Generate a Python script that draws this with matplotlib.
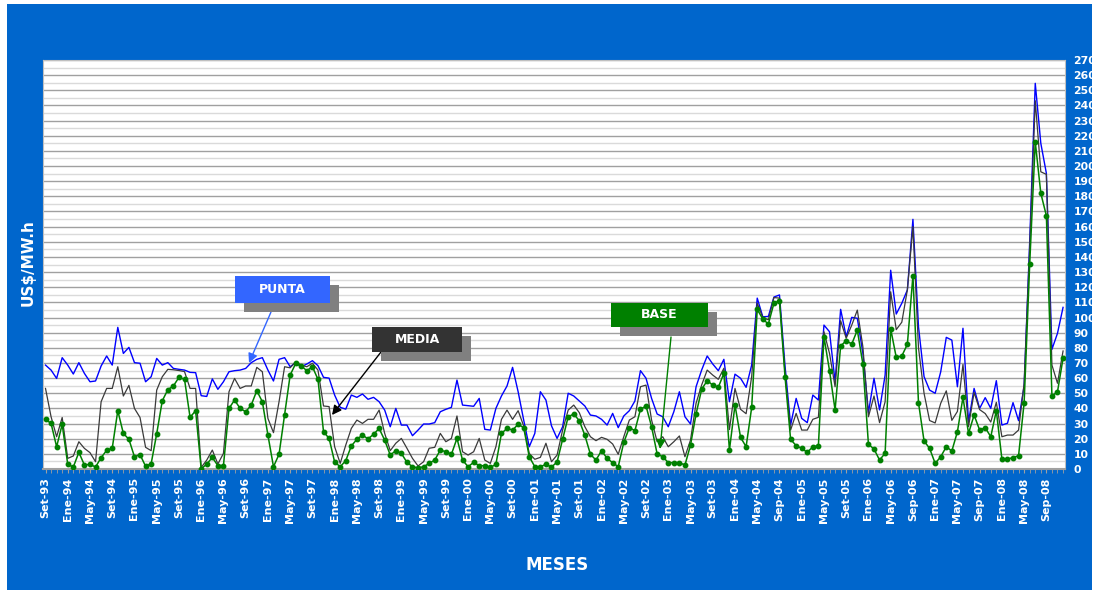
import matplotlib
matplotlib.use("Agg")
import matplotlib.pyplot as plt
from matplotlib.patches import Rectangle
import numpy as np

# ---------------- data ----------------
base = [32.8, 30.1, 14.7, 29.5, 3.1, 1.3, 11, 2.6, 3.1, 1.3, 7.5, 12.3, 13.7, 38.5, 23.5, 19.6,
        8.1, 9.5, 1.8, 3.5, 23.3, 45, 52.4, 54.8, 60.5, 59.2, 34.1, 38.5, 0, 3.3, 7.6, 2.2,
        2.2, 40, 45.5, 40, 37.8, 42.2, 51.7, 44.4, 22.4, 1.5, 9.7, 35.6, 62, 69.7, 68, 64.9,
        67.5, 59.2, 24.6, 20.2, 4.6, 1.5, 5.5, 15.2, 19.6, 22.4, 19.9, 22.9, 26.8, 19, 9.2, 12.1,
        10.3, 4.4, 1.5, 0.8, 1.5, 3.7, 5.9, 12.5, 11.4, 9.7, 20.2, 5.9, 1.5, 4.4, 2.2, 2.2,
        1, 3.1, 23.5, 26.8, 25.7, 29.5, 27.3, 8.1, 1.5, 1.5, 3.1, 1.3, 4.6, 19.6, 34.5, 36.3,
        31.9, 22.2, 9.7, 5.9, 12.1, 7, 4.2, 1.5, 17.6, 27.3, 25.3, 39.4, 41.6, 27.9, 9.9, 8.1,
        4.2, 4.2, 4.2, 2.6, 15.8, 36.3, 52.6, 58.3, 55.4, 53.9, 63.2, 12.5, 42.2, 20.9, 14.7, 40.6,
        105.4, 99, 95.7, 109.4, 111, 60.9, 19.6, 15.4, 13.6, 11, 14.7, 15.4, 87.3, 64.9, 38.9, 81.2,
        84.7, 82.5, 91.7, 69.3, 16.3, 13.2, 5.9, 10.4, 92.5, 73.7, 74.6, 82.3, 127.6, 43.8, 18.5, 13.6,
        3.7, 8.1, 14.7, 11.9, 24.6, 47.3, 23.5, 35.6, 25.7, 27.3, 21.3, 38.5, 6.6, 6.6, 7.5, 8.8,
        43.8, 135.1, 216, 182, 167.2, 48.2, 51, 73.1]

media = [53.2, 34.5, 21.3, 34, 7, 8.6, 18, 13.6, 10.8, 4.8, 44.4, 53.2, 53.2, 67.5, 48.2, 55.2,
         40, 34, 14.3, 12.1, 52.1, 60.9, 65.8, 65.5, 65, 64.3, 53.2, 53.2, 1, 5.9, 12.5, 3.3,
         10.3, 51, 59.8, 53.2, 54.8, 54.8, 67.1, 64.2, 33.4, 24, 44.4, 67.5, 66.8, 70.8, 68.6, 67.5,
         69.8, 65.3, 41.6, 41.2, 14.7, 3.7, 15.8, 26.8, 32.3, 30.1, 32.8, 32.8, 38.9, 23.5, 12.1, 17,
         20.2, 13.7, 7, 2, 4.8, 13.7, 14.3, 23.5, 18, 20.2, 35, 11.4, 9.2, 11.4, 20.2, 5.9,
         3.7, 14.7, 32.8, 38.9, 32.8, 38.5, 28.4, 10.3, 6.4, 7.7, 17, 4.8, 9.2, 25.7, 38.9, 42.2,
         37.2, 27.9, 21.3, 18.7, 20.9, 19.6, 16.5, 9.7, 21.3, 32.3, 34.5, 54.3, 55.4, 32.3, 18, 21.3,
         14.7, 18, 21.8, 8.1, 19.1, 43.4, 55.4, 65.3, 62, 59.2, 66.5, 26, 53.2, 39.4, 36.5, 61,
         109.4, 100, 98.5, 113.2, 112.8, 63, 25.7, 36.7, 25.7, 25.7, 32.8, 34.1, 90.6, 76.3, 54.3, 97.9,
         86.3, 95, 104.9, 80.7, 34.5, 48.2, 30.6, 44.4, 117, 92, 96.9, 118.2, 160, 80, 50, 32,
         30.4, 43.4, 51.6, 32.1, 38, 69, 28, 50.5, 39.2, 36.6, 31, 44, 21.3, 22.4, 22.4, 25.7,
         56.6, 146.7, 243.1, 196.2, 194.5, 68.6, 56.6, 77.9]

punta = [68.6, 65.3, 59.8, 73.5, 68.6, 62.7, 70.2, 63.1, 57.6, 58.1, 68, 74.6, 68.6, 93.5, 76.3, 80.3,
         70.2, 69.8, 57.6, 60.9, 73, 68.6, 70.2, 66.4, 65.8, 65.3, 63.8, 63.6, 48.4, 47.9, 59.5, 52.6,
         57.6, 64.2, 64.9, 65.3, 66.4, 70.2, 72.4, 73.5, 65.3, 58.1, 72.4, 73.5, 67.5, 70.2, 67.5, 69.3,
         71.5, 68.2, 60.5, 60, 48.8, 40.7, 39.5, 48.8, 47.3, 49.5, 46, 47.3, 44.4, 38.9, 27.9, 40,
         29, 29, 22, 25.7, 29.7, 29.7, 30.6, 37.8, 39.4, 40.7, 58.7, 42.2, 41.8, 41.4, 46.6, 26.2,
         25.7, 40, 48.2, 54.8, 67.1, 51, 32.3, 14.7, 23.5, 51, 45.5, 28.5, 20.2, 27.9, 50, 48.2,
         44.9, 41.6, 35.6, 35, 32.8, 29, 36.7, 27.3, 35, 38.5, 44.9, 64.9, 59.9, 46.6, 36.3, 34.5,
         27.9, 37.8, 51, 34.5, 29.7, 54.3, 65.3, 74.6, 69.3, 64.9, 72.4, 44.4, 62.6, 59.9, 53.9, 68.6,
         112.8, 100.5, 100.7, 113.5, 114.9, 68, 29, 46.6, 33.4, 30.6, 48.8, 45.5, 95, 90.6, 57.6, 105.4,
         87.3, 100.1, 99.5, 76.4, 37.3, 59.9, 39, 62, 131.2, 102.3, 109.4, 118.2, 164.8, 94, 61, 52.1,
         50, 64.2, 86.9, 85.1, 54.3, 92.9, 31.2, 53.2, 40, 47.1, 40, 58.3, 29, 30.2, 43.8, 31.9,
         54.8, 150, 254.6, 215, 195.2, 79, 89.6, 106.7]

tick_labels = ["Set-93", "Ene-94", "May-94", "Set-94", "Ene-95", "May-95", "Set-95",
               "Ene-96", "May-96", "Set-96", "Ene-97", "May-97", "Set-97",
               "Ene-98", "May-98", "Set-98", "Ene-99", "May-99", "Set-99",
               "Ene-00", "May-00", "Set-00", "Ene-01", "May-01", "Set-01",
               "Ene-02", "May-02", "Set-02", "Ene-03", "May-03", "Set-03",
               "Ene-04", "May-04", "Sep-04", "Ene-05", "May-05", "Set-05",
               "Ene-06", "May-06", "Sep-06", "Ene-07", "May-07", "Sep-07",
               "Ene-08", "May-08", "Sep-08"]

# ---------------- figure ----------------
W, H = 1097, 594
fig = plt.figure(figsize=(W / 100, H / 100), dpi=100, facecolor="white")
BLUE_BG = "#0066CC"
bg = Rectangle((7 / W, 4 / H), (1092 - 7) / W, (590 - 4) / H,
               transform=fig.transFigure, facecolor=BLUE_BG,
               edgecolor="none", zorder=-5)
fig.patches.append(bg)

L, R, T, B = 43, 1065, 60, 469
ax = fig.add_axes([L / W, 1 - B / H, (R - L) / W, (B - T) / H])
ax.set_facecolor("white")

n = len(base)
x = np.arange(n)

for v in range(5, 271, 5):
    if v % 10 == 0:
        ax.axhline(v, color="#a0a0a0", lw=1.0, zorder=1)
    else:
        ax.axhline(v, color="#dadada", lw=1.0, zorder=1)

ax.plot(x, punta, color="#0000FF", lw=1.0, zorder=3)
ax.plot(x, media, color="#3a3a3a", lw=0.9, zorder=4)
ax.plot(x, base, color="#008000", lw=1.1, marker="o", markersize=3.2,
        markerfacecolor="#008000", markeredgecolor="#008000", zorder=5)

ax.set_xlim(-0.45, n - 1 + 0.35)
ax.set_ylim(0, 270)

ax.yaxis.tick_right()
ax.set_yticks(np.arange(0, 271, 10))
ax.tick_params(axis="y", length=0, pad=6, labelsize=7.8, labelcolor="white")
for t in ax.get_yticklabels():
    t.set_fontweight("bold")

ax.set_xticks(np.arange(0, n, 4))
ax.set_xticklabels(tick_labels, rotation=90, fontsize=8, fontweight="bold", color="white")
ax.set_xticks(np.arange(0, n, 1), minor=True)
ax.tick_params(axis="x", which="major", length=3, color="#a0a0a0", pad=3)
ax.tick_params(axis="x", which="minor", length=3, color="#a0a0a0")

for s in ["top", "left", "right"]:
    ax.spines[s].set_color("#c0c0c0")
    ax.spines[s].set_linewidth(0.8)
ax.spines["bottom"].set_color("#a0a0a0")
ax.spines["bottom"].set_linewidth(1.5)

fig.text(557 / W, 1 - 565 / H, "MESES", color="white", fontsize=12,
         fontweight="bold", ha="center", va="center")
fig.text(28 / W, 1 - 263 / H, "US$/MW.h", color="white", fontsize=11,
         fontweight="bold", ha="center", va="center", rotation=90)

# ---------------- annotation boxes ----------------
def box(x0, y0, x1, y1, color, label):
    fig.patches.append(Rectangle(((x0 + 9) / W, 1 - (y1 + 9) / H), (x1 - x0) / W, (y1 - y0) / H,
                                 transform=fig.transFigure, facecolor="#808080",
                                 edgecolor="none", zorder=6))
    fig.patches.append(Rectangle((x0 / W, 1 - y1 / H), (x1 - x0) / W, (y1 - y0) / H,
                                 transform=fig.transFigure, facecolor=color,
                                 edgecolor="none", zorder=7))
    fig.text((x0 + x1) / 2 / W, 1 - (y0 + y1) / 2 / H, label, color="white",
             fontsize=9, fontweight="bold", ha="center", va="center", zorder=8)

box(235, 276, 330, 303, "#3366FF", "PUNTA")
box(372, 327, 462, 352, "#333333", "MEDIA")
box(611, 303, 708, 327, "#008000", "BASE")

def arrow(x0, y0, x1, y1, color):
    ax.annotate("", xy=(x1, H - y1), xycoords="figure pixels",
                xytext=(x0, H - y0), textcoords="figure pixels",
                arrowprops=dict(arrowstyle="-|>", color=color, lw=1.0,
                                mutation_scale=14, shrinkA=0, shrinkB=0),
                zorder=9, annotation_clip=False)

arrow(271, 312, 249, 363, "#3366FF")
arrow(381, 352, 332, 415, "black")
arrow(671, 337, 660, 449, "#008000")

fig.savefig("out.png", dpi=100, facecolor=fig.get_facecolor())
